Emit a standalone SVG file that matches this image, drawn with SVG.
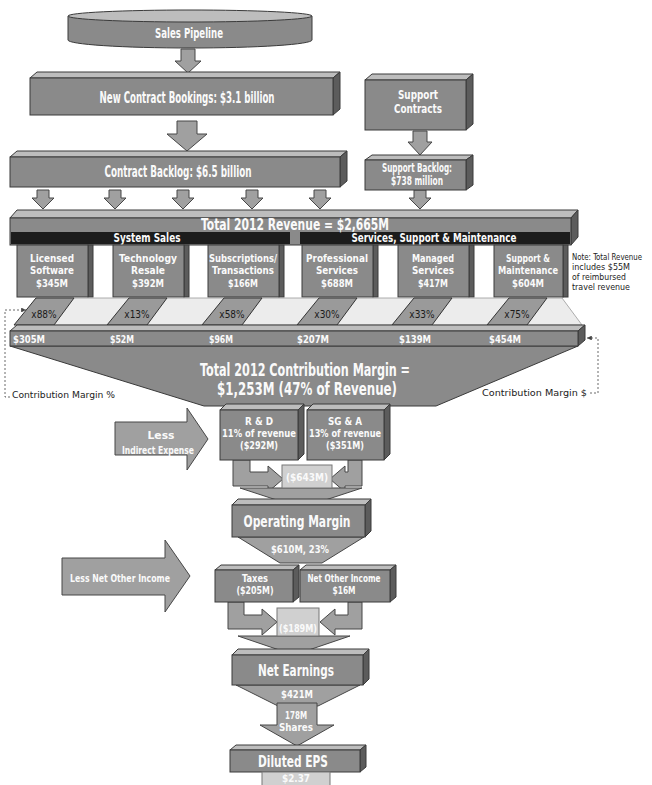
<svg xmlns="http://www.w3.org/2000/svg" width="652" height="785" viewBox="0 0 652 785">
<defs>
<style>
.f{fill:#8a8a8a;stroke:#3a3a3a;stroke-width:1}
.tp{fill:#bdbdbd;stroke:#3a3a3a;stroke-width:1}
.sd{fill:#5c5c5c;stroke:#3a3a3a;stroke-width:1}
.lt{fill:#d0d0d0;stroke:#777;stroke-width:1}
.ar{fill:#a0a0a0;stroke:#474747;stroke-width:1}
.pg{fill:#9a9a9a;stroke:#333;stroke-width:1}
.pl{fill:#ececec;stroke:#999;stroke-width:0.8}
.band{fill:#1c1c1c}
text{font-family:"Liberation Sans Narrow","DejaVu Sans Condensed","Liberation Sans",Arial,sans-serif}
.w{fill:#fafafa;font-weight:bold;text-anchor:middle}
.k{fill:#222;font-size:9.5px}
.nt{fill:#222;font-size:8px}
.pc{fill:#1a1a1a;font-size:10px;text-anchor:middle}
.dash{fill:none;stroke:#444;stroke-width:0.8;stroke-dasharray:2 2}
</style>
<marker id="ah" viewBox="0 0 6 6" refX="6" refY="3" markerWidth="6" markerHeight="6" orient="auto"><path d="M0,0 L6,3 L0,6 Z" fill="#444"/></marker>
</defs>
<rect width="652" height="785" fill="#fff"/>

<g id="connectors">
<path class="ar" d="M181,49 H195 V61 H201 L188,73 L175,61 H181 Z"/>
<path class="ar" d="M177,121 H197 V134 H207 L187,151 L167,134 H177 Z"/>
<path class="ar" d="M413,131 H427 V142 H432 L420,155 L408,142 H413 Z"/>
<path class="ar" d="M37,190 H49 V198 H54 L43,209 L32,198 H37 Z"/>
<path class="ar" d="M109,190 H121 V198 H126 L115,209 L104,198 H109 Z"/>
<path class="ar" d="M177,190 H189 V198 H194 L183,209 L172,198 H177 Z"/>
<path class="ar" d="M246,190 H258 V198 H263 L252,209 L241,198 H246 Z"/>
<path class="ar" d="M314,190 H326 V198 H331 L320,209 L309,198 H314 Z"/>
<path class="ar" d="M414,190 H426 V198 H431 L420,209 L409,198 H414 Z"/>
<path class="ar" d="M115,422 H187 V408 L208,439 L187,470 V455 H115 Z"/>
<path class="ar" d="M233,460 H250 V472 H268 V466 L283,479 L268,492 V486 H233 Z"/>
<path class="ar" d="M362,460 V486 H345 V492 L330,479 L345,466 V472 H348 V460 Z"/>
<polygon class="ar" points="240,488 362,488 301,508"/>
<polygon class="ar" points="238,537 364,537 322,563 280,563"/>
<path class="ar" d="M62,558 H165 V540 L190,576 L165,612 V595 H62 Z"/>
<path class="ar" d="M228,602 H244 V615 H262 V609 L277,622 L262,635 V629 H228 Z"/>
<path class="ar" d="M362,602 V629 H335 V635 L320,622 L335,609 V615 H348 V602 Z"/>
<polygon class="ar" points="238,636 350,636 294,655"/>
<polygon class="ar" points="236,685 360,685 318,706 278,706"/>
<path class="ar" d="M277,703 H317 V725 H334 L297,746 L260,725 H277 Z"/>
<polyline class="dash" points="10,397 5,397 5,310 26,310" marker-end="url(#ah)"/>
<polyline class="dash" points="590,393 598,393 598,338 587,338" marker-end="url(#ah)"/>
</g>

<g id="sales-pipeline">
<path class="f" d="M68,16 V40 A122,8 0 0 0 312,40 V16 Z"/>
<ellipse class="tp" cx="190" cy="16" rx="122" ry="6"/>
<text class="w" x="189" y="38" font-size="14" textLength="68" lengthAdjust="spacingAndGlyphs">Sales Pipeline</text>
</g>

<g id="new-contract-bookings">
<polygon class="tp" points="30,78 37,72 340,72 333,78"/>
<polygon class="sd" points="333,78 340,72 340,109 333,115"/>
<rect class="f" x="30" y="78" width="303" height="37"/>
<text class="w" x="187" y="103" font-size="15" textLength="175" lengthAdjust="spacingAndGlyphs">New Contract Bookings: $3.1 billion</text>
</g>

<g id="support-contracts">
<polygon class="tp" points="365,80 372,74 473,74 466,80"/>
<polygon class="sd" points="466,80 473,74 473,124 466,130"/>
<rect class="f" x="365" y="80" width="101" height="50"/>
<text class="w" x="418" y="99" font-size="13" textLength="40" lengthAdjust="spacingAndGlyphs">Support</text>
<text class="w" x="418" y="113" font-size="13" textLength="48" lengthAdjust="spacingAndGlyphs">Contracts</text>
</g>

<g id="contract-backlog">
<polygon class="tp" points="10,157 17,151 347,151 340,157"/>
<polygon class="sd" points="340,157 347,151 347,181 340,187"/>
<rect class="f" x="10" y="157" width="330" height="30"/>
<text class="w" x="178" y="177" font-size="15" textLength="147" lengthAdjust="spacingAndGlyphs">Contract Backlog: $6.5 billion</text>
</g>

<g id="support-backlog">
<polygon class="tp" points="365,160 372,155 473,155 466,160"/>
<polygon class="sd" points="466,160 473,155 473,185 466,190"/>
<rect class="f" x="365" y="160" width="101" height="30"/>
<text class="w" x="417" y="172" font-size="12" textLength="70" lengthAdjust="spacingAndGlyphs">Support Backlog:</text>
<text class="w" x="417" y="185" font-size="12" textLength="52" lengthAdjust="spacingAndGlyphs">$738 million</text>
</g>

<g id="total-revenue">
<polygon class="tp" points="10,218 17,210 578,210 571,218"/>
<polygon class="sd" points="571,218 578,210 578,237 571,245"/>
<rect class="f" x="10" y="218" width="561" height="27"/>
<rect class="band" x="11" y="232" width="279" height="12"/>
<rect class="band" x="300" y="232" width="270" height="12"/>
<text class="w" x="295" y="230" font-size="15" textLength="188" lengthAdjust="spacingAndGlyphs">Total 2012 Revenue = $2,665M</text>
<text class="w" x="147" y="242" font-size="12" textLength="67" lengthAdjust="spacingAndGlyphs">System Sales</text>
<text class="w" x="434" y="242" font-size="12" textLength="165" lengthAdjust="spacingAndGlyphs">Services, Support &amp; Maintenance</text>
</g>

<g id="licensed-software">
<rect class="sd" x="88" y="245" width="5" height="52"/>
<rect class="f" x="17" y="245" width="71" height="52"/>
<text class="w" x="52" y="262" font-size="11" textLength="44" lengthAdjust="spacingAndGlyphs">Licensed</text>
<text class="w" x="52" y="274" font-size="11" textLength="44" lengthAdjust="spacingAndGlyphs">Software</text>
<text class="w" x="52" y="287" font-size="11" textLength="32" lengthAdjust="spacingAndGlyphs">$345M</text>
</g>
<g id="technology-resale">
<rect class="sd" x="184" y="245" width="5" height="52"/>
<rect class="f" x="113" y="245" width="71" height="52"/>
<text class="w" x="148" y="262" font-size="11" textLength="58" lengthAdjust="spacingAndGlyphs">Technology</text>
<text class="w" x="148" y="274" font-size="11" textLength="34" lengthAdjust="spacingAndGlyphs">Resale</text>
<text class="w" x="148" y="287" font-size="11" textLength="32" lengthAdjust="spacingAndGlyphs">$392M</text>
</g>
<g id="subscriptions-transactions">
<rect class="sd" x="279" y="245" width="5" height="52"/>
<rect class="f" x="208" y="245" width="71" height="52"/>
<text class="w" x="243" y="262" font-size="11" textLength="68" lengthAdjust="spacingAndGlyphs">Subscriptions/</text>
<text class="w" x="243" y="274" font-size="11" textLength="62" lengthAdjust="spacingAndGlyphs">Transactions</text>
<text class="w" x="243" y="287" font-size="11" textLength="30" lengthAdjust="spacingAndGlyphs">$166M</text>
</g>
<g id="professional-services">
<rect class="sd" x="373" y="245" width="5" height="52"/>
<rect class="f" x="302" y="245" width="71" height="52"/>
<text class="w" x="337" y="262" font-size="11" textLength="62" lengthAdjust="spacingAndGlyphs">Professional</text>
<text class="w" x="337" y="274" font-size="11" textLength="42" lengthAdjust="spacingAndGlyphs">Services</text>
<text class="w" x="337" y="287" font-size="11" textLength="32" lengthAdjust="spacingAndGlyphs">$688M</text>
</g>
<g id="managed-services">
<rect class="sd" x="469" y="245" width="5" height="52"/>
<rect class="f" x="398" y="245" width="71" height="52"/>
<text class="w" x="433" y="262" font-size="11" textLength="42" lengthAdjust="spacingAndGlyphs">Managed</text>
<text class="w" x="433" y="274" font-size="11" textLength="42" lengthAdjust="spacingAndGlyphs">Services</text>
<text class="w" x="433" y="287" font-size="11" textLength="30" lengthAdjust="spacingAndGlyphs">$417M</text>
</g>
<g id="support-maintenance">
<rect class="sd" x="563" y="245" width="5" height="52"/>
<rect class="f" x="494" y="245" width="69" height="52"/>
<text class="w" x="528" y="262" font-size="11" textLength="44" lengthAdjust="spacingAndGlyphs">Support &amp;</text>
<text class="w" x="528" y="274" font-size="11" textLength="60" lengthAdjust="spacingAndGlyphs">Maintenance</text>
<text class="w" x="528" y="287" font-size="11" textLength="32" lengthAdjust="spacingAndGlyphs">$604M</text>
</g>

<g id="note">
<text class="nt" x="572" y="260" textLength="70" lengthAdjust="spacingAndGlyphs">Note: Total Revenue</text>
<text class="nt" x="572" y="270" textLength="58" lengthAdjust="spacingAndGlyphs">includes $55M</text>
<text class="nt" x="572" y="280" textLength="54" lengthAdjust="spacingAndGlyphs">of reimbursed</text>
<text class="nt" x="572" y="290" textLength="58" lengthAdjust="spacingAndGlyphs">travel revenue</text>
</g>

<g id="margin-links">
<polygon class="pl" points="36,298 562,298 582,325 17,325"/>
<polygon class="pg" points="36,298 74,298 54,325 14,325"/>
<polygon class="pg" points="129,298 167,298 147,325 107,325"/>
<polygon class="pg" points="224,298 262,298 242,325 202,325"/>
<polygon class="pg" points="319,298 357,298 337,325 297,325"/>
<polygon class="pg" points="414,298 452,298 432,325 392,325"/>
<polygon class="pg" points="509,298 547,298 527,325 487,325"/>
<text class="pc" x="44" y="318">x88%</text>
<text class="pc" x="137" y="318">x13%</text>
<text class="pc" x="232" y="318">x58%</text>
<text class="pc" x="327" y="318">x30%</text>
<text class="pc" x="422" y="318">x33%</text>
<text class="pc" x="517" y="318">x75%</text>
</g>

<g id="contribution-margin">
<polygon class="f" points="10,346 578,346 436,406 204,406"/>
<polygon class="tp" points="10,331 17,325 585,325 578,331"/>
<polygon class="sd" points="578,331 585,325 585,340 578,346"/>
<rect class="f" x="10" y="331" width="568" height="15"/>
<text class="w" x="29" y="343" font-size="11" textLength="32" lengthAdjust="spacingAndGlyphs">$305M</text>
<text class="w" x="122" y="343" font-size="11" textLength="24" lengthAdjust="spacingAndGlyphs">$52M</text>
<text class="w" x="221" y="343" font-size="11" textLength="24" lengthAdjust="spacingAndGlyphs">$96M</text>
<text class="w" x="313" y="343" font-size="11" textLength="32" lengthAdjust="spacingAndGlyphs">$207M</text>
<text class="w" x="415" y="343" font-size="11" textLength="32" lengthAdjust="spacingAndGlyphs">$139M</text>
<text class="w" x="505" y="343" font-size="11" textLength="32" lengthAdjust="spacingAndGlyphs">$454M</text>
<text class="w" x="305" y="376" font-size="17" textLength="210" lengthAdjust="spacingAndGlyphs">Total 2012 Contribution Margin =</text>
<text class="w" x="307" y="395" font-size="17" textLength="180" lengthAdjust="spacingAndGlyphs">$1,253M (47% of Revenue)</text>
</g>

<g id="cm-labels">
<text class="k" x="12" y="398" font-size="10" textLength="103" lengthAdjust="spacingAndGlyphs">Contribution Margin %</text>
<text class="k" x="482" y="396" font-size="10" textLength="105" lengthAdjust="spacingAndGlyphs">Contribution Margin $</text>
</g>

<g id="less-indirect-expense">
<text class="w" x="161" y="439" font-size="11" textLength="27" lengthAdjust="spacingAndGlyphs">Less</text>
<text class="w" x="158" y="454" font-size="11" textLength="72" lengthAdjust="spacingAndGlyphs">Indirect Expense</text>
</g>

<g id="rd">
<polygon class="tp" points="220,410 226,404 304,404 298,410"/>
<polygon class="sd" points="298,410 304,404 304,454 298,460"/>
<rect class="f" x="220" y="410" width="78" height="50"/>
<text class="w" x="259" y="425" font-size="11" textLength="28" lengthAdjust="spacingAndGlyphs">R &amp; D</text>
<text class="w" x="259" y="437" font-size="11" textLength="74" lengthAdjust="spacingAndGlyphs">11% of revenue</text>
<text class="w" x="259" y="449" font-size="11" textLength="38" lengthAdjust="spacingAndGlyphs">($292M)</text>
</g>

<g id="sga">
<polygon class="tp" points="307,410 313,404 390,404 384,410"/>
<polygon class="sd" points="384,410 390,404 390,454 384,460"/>
<rect class="f" x="307" y="410" width="77" height="50"/>
<text class="w" x="345" y="425" font-size="11" textLength="34" lengthAdjust="spacingAndGlyphs">SG &amp; A</text>
<text class="w" x="345" y="437" font-size="11" textLength="72" lengthAdjust="spacingAndGlyphs">13% of revenue</text>
<text class="w" x="345" y="449" font-size="11" textLength="38" lengthAdjust="spacingAndGlyphs">($351M)</text>
</g>

<g id="indirect-total">
<rect class="lt" x="282" y="465" width="50" height="23"/>
<text class="w" x="307" y="481" font-size="11" textLength="42" lengthAdjust="spacingAndGlyphs">($643M)</text>
</g>

<g id="operating-margin">
<polygon class="tp" points="232,505 238,499 371,499 365,505"/>
<polygon class="sd" points="365,505 371,499 371,531 365,537"/>
<rect class="f" x="232" y="505" width="133" height="32"/>
<text class="w" x="297" y="527" font-size="16" textLength="107" lengthAdjust="spacingAndGlyphs">Operating Margin</text>
<text class="w" x="300" y="553" font-size="11" textLength="58" lengthAdjust="spacingAndGlyphs">$610M, 23%</text>
</g>

<g id="less-net-other-income">
<text class="w" x="120" y="582" font-size="11" textLength="100" lengthAdjust="spacingAndGlyphs">Less Net Other Income</text>
</g>

<g id="taxes">
<polygon class="tp" points="215,570 221,565 299,565 293,570"/>
<polygon class="sd" points="293,570 299,565 299,597 293,602"/>
<rect class="f" x="215" y="570" width="78" height="32"/>
<text class="w" x="255" y="582" font-size="11" textLength="26" lengthAdjust="spacingAndGlyphs">Taxes</text>
<text class="w" x="255" y="594" font-size="11" textLength="37" lengthAdjust="spacingAndGlyphs">($205M)</text>
</g>

<g id="net-other-income">
<polygon class="tp" points="300,570 306,565 396,565 390,570"/>
<polygon class="sd" points="390,570 396,565 396,597 390,602"/>
<rect class="f" x="300" y="570" width="90" height="32"/>
<text class="w" x="344" y="582" font-size="11" textLength="73" lengthAdjust="spacingAndGlyphs">Net Other Income</text>
<text class="w" x="344" y="594" font-size="11" textLength="23" lengthAdjust="spacingAndGlyphs">$16M</text>
</g>

<g id="tax-other-total">
<rect class="lt" x="277" y="608" width="42" height="28"/>
<text class="w" x="298" y="632" font-size="11" textLength="38" lengthAdjust="spacingAndGlyphs">($189M)</text>
</g>

<g id="net-earnings">
<polygon class="tp" points="232,655 238,649 369,649 363,655"/>
<polygon class="sd" points="363,655 369,649 369,679 363,685"/>
<rect class="f" x="232" y="655" width="131" height="30"/>
<text class="w" x="296" y="676" font-size="16" textLength="76" lengthAdjust="spacingAndGlyphs">Net Earnings</text>
<text class="w" x="297" y="698" font-size="11" textLength="32" lengthAdjust="spacingAndGlyphs">$421M</text>
</g>

<g id="shares">
<text class="w" x="296" y="719" font-size="11" textLength="22" lengthAdjust="spacingAndGlyphs">178M</text>
<text class="w" x="296" y="731" font-size="11" textLength="34" lengthAdjust="spacingAndGlyphs">Shares</text>
</g>

<g id="diluted-eps">
<polygon class="tp" points="230,750 236,745 366,745 360,750"/>
<polygon class="sd" points="360,750 366,745 366,767 360,772"/>
<rect class="f" x="230" y="750" width="130" height="22"/>
<text class="w" x="293" y="767" font-size="15" textLength="70" lengthAdjust="spacingAndGlyphs">Diluted EPS</text>
<rect class="lt" x="262" y="772" width="68" height="14"/>
<text class="w" x="296" y="782" font-size="10" textLength="28" lengthAdjust="spacingAndGlyphs">$2.37</text>
</g>
</svg>
